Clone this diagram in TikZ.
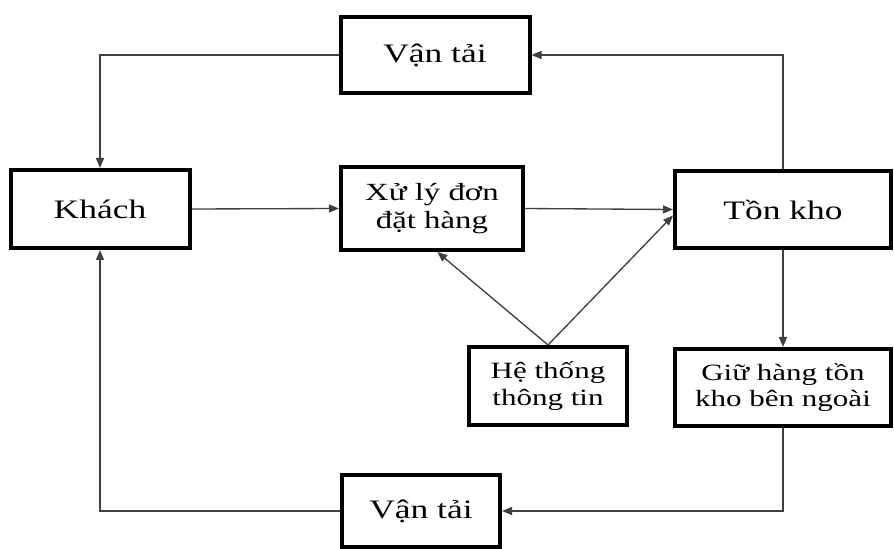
\documentclass[tikz,border=0pt]{standalone}
\usepackage{fontspec}
\setmainfont{Liberation Serif}[FakeStretch=1.33]
\usetikzlibrary{arrows.meta}
\begin{document}
\begin{tikzpicture}[x=0.75pt,y=-0.75pt,
  box/.style={draw=black,line width=3pt,fill=white,inner sep=0pt,align=center,
    font=\fontsize{20}{24}\selectfont},
  smallbox/.style={box,font=\fontsize{17.5}{20}\selectfont},
  midbox/.style={box,font=\fontsize{18.5}{20.5}\selectfont},
  link/.style={draw=black!75,line width=1pt,-{Triangle[length=7.5pt,width=6pt]}}]
\useasboundingbox (0,0) rectangle (894,549);
% boxes
\node[box,minimum width=189*0.75pt,minimum height=76*0.75pt] (vtop) at (435,55) {Vận tải};
\node[box,minimum width=179*0.75pt,minimum height=78*0.75pt] (khach) at (100,209) {Khách};
\node[midbox,minimum width=182*0.75pt,minimum height=83*0.75pt] (xuly) at (432,208.5) {Xử lý đơn\\đặt hàng};
\node[box,minimum width=216*0.75pt,minimum height=77*0.75pt] (tonkho) at (783,209.5) {Tồn kho};
\node[smallbox,minimum width=158*0.75pt,minimum height=78*0.75pt] (htt) at (548,386) {Hệ thống\\thông tin};
\node[smallbox,minimum width=216*0.75pt,minimum height=77*0.75pt] (giu) at (783,387.5) {Giữ hàng tồn\\kho bên ngoài};
\node[box,minimum width=158*0.75pt,minimum height=71*0.75pt] (vbot) at (421,511) {Vận tải};
% connectors
\draw[link] (vtop.west) -| (khach.north);
\draw[link] (tonkho.north) |- (vtop.east);
\draw[link] (khach.east) -- (xuly.west);
\draw[link] (xuly.east) -- (tonkho.west);
\draw[link] (htt.north) -- ([xshift=4pt]xuly.south);
\draw[link] (htt.north) -- ([yshift=-4.5pt]tonkho.west);
\draw[link] (tonkho.south) -- (giu.north);
\draw[link] (giu.south) |- (vbot.east);
\draw[link] (vbot.west) -| (khach.south);
\end{tikzpicture}
\end{document}
